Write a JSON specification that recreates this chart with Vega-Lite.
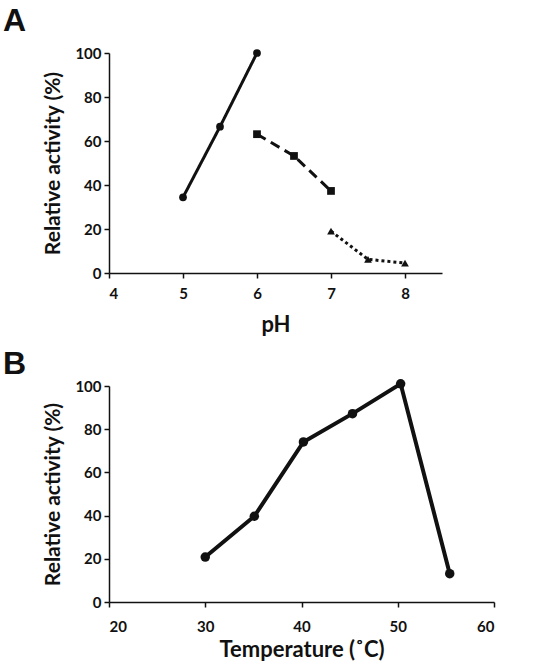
{
  "$schema": "https://vega.github.io/schema/vega-lite/v6.json",
  "padding": {"left": 2, "top": 5, "right": 5, "bottom": 2},
  "background": "white",
  "spacing": 12,
  "config": {
    "view": {"stroke": null},
    "font": "Lato",
    "axis": {
      "grid": false,
      "domainColor": "#111",
      "domainWidth": 1.5,
      "tickColor": "#111",
      "tickWidth": 1.5,
      "tickSize": 5,
      "labelFont": "Lato",
      "labelFontWeight": "bold",
      "labelFontSize": 15,
      "labelColor": "#111",
      "labelPadding": 3,
      "titleFont": "Lato",
      "titleFontWeight": "bold",
      "titleColor": "#111"
    },
    "title": {"font": "Liberation Sans", "fontWeight": "bold", "fontSize": 32, "color": "#111", "anchor": "start", "frame": "bounds"}
  },
  "datasets": {
    "ph": [
      {"pH": 5.0, "activity": 34.4, "buffer": "a"},
      {"pH": 5.5, "activity": 66.5, "buffer": "a"},
      {"pH": 6.0, "activity": 100.0, "buffer": "a"},
      {"pH": 6.0, "activity": 63.1, "buffer": "b"},
      {"pH": 6.5, "activity": 53.2, "buffer": "b"},
      {"pH": 7.0, "activity": 37.3, "buffer": "b"},
      {"pH": 7.0, "activity": 19.0, "buffer": "c"},
      {"pH": 7.5, "activity": 6.2, "buffer": "c"},
      {"pH": 8.0, "activity": 4.5, "buffer": "c"}
    ],
    "temp": [
      {"temperature": 30.0, "activity": 20.8},
      {"temperature": 35.1, "activity": 39.7},
      {"temperature": 40.2, "activity": 74.1},
      {"temperature": 45.3, "activity": 87.2},
      {"temperature": 50.3, "activity": 101.0},
      {"temperature": 55.4, "activity": 13.1}
    ]
  },
  "vconcat": [
    {
      "title": {"text": "A", "dx": -40, "offset": 8},
      "width": 333,
      "height": 220,
      "data": {"name": "ph"},
      "encoding": {
        "x": {"field": "pH", "type": "quantitative", "scale": {"domain": [4, 8.5], "nice": false, "zero": false},
              "axis": {"values": [4, 5, 6, 7, 8], "title": "pH", "titleFontSize": 22, "titlePadding": 13, "labelPadding": 8}},
        "y": {"field": "activity", "type": "quantitative", "scale": {"domain": [0, 100]},
              "axis": {"values": [0, 20, 40, 60, 80, 100], "title": "Relative activity (%)", "titleFontSize": 21, "titlePadding": 11}}
      },
      "layer": [
        {
          "mark": {"type": "line", "color": "#111", "strokeWidth": 3},
          "encoding": {
            "detail": {"field": "buffer"},
            "strokeDash": {"field": "buffer", "type": "nominal", "legend": null,
              "scale": {"domain": ["a", "b", "c"], "range": [[1, 0], [10, 6], [3, 3]]}}
          }
        },
        {
          "mark": {"type": "point", "filled": true, "color": "#111", "opacity": 1},
          "encoding": {
            "shape": {"field": "buffer", "type": "nominal", "legend": null,
              "scale": {"domain": ["a", "b", "c"], "range": ["circle", "square", "triangle-up"]}},
            "size": {"field": "buffer", "type": "nominal", "legend": null,
              "scale": {"domain": ["a", "b", "c"], "range": [60, 60, 95]}}
          }
        }
      ]
    },
    {
      "title": {"text": "B", "dx": -40, "offset": -5},
      "width": 385,
      "height": 216,
      "data": {"name": "temp"},
      "encoding": {
        "x": {"field": "temperature", "type": "quantitative", "scale": {"domain": [20, 60], "nice": false, "zero": false},
              "axis": {"values": [20, 30, 40, 50, 60], "title": "Temperature (˚C)", "titleFontSize": 22, "titlePadding": 5, "labelPadding": 12}},
        "y": {"field": "activity", "type": "quantitative", "scale": {"domain": [0, 100]},
              "axis": {"values": [0, 20, 40, 60, 80, 100], "title": "Relative activity (%)", "titleFontSize": 21, "titlePadding": 11}}
      },
      "layer": [
        {"mark": {"type": "line", "color": "#111", "strokeWidth": 4}, "encoding": {}},
        {"mark": {"type": "point", "filled": true, "color": "#111", "opacity": 1, "size": 90}, "encoding": {}}
      ]
    }
  ]
}
